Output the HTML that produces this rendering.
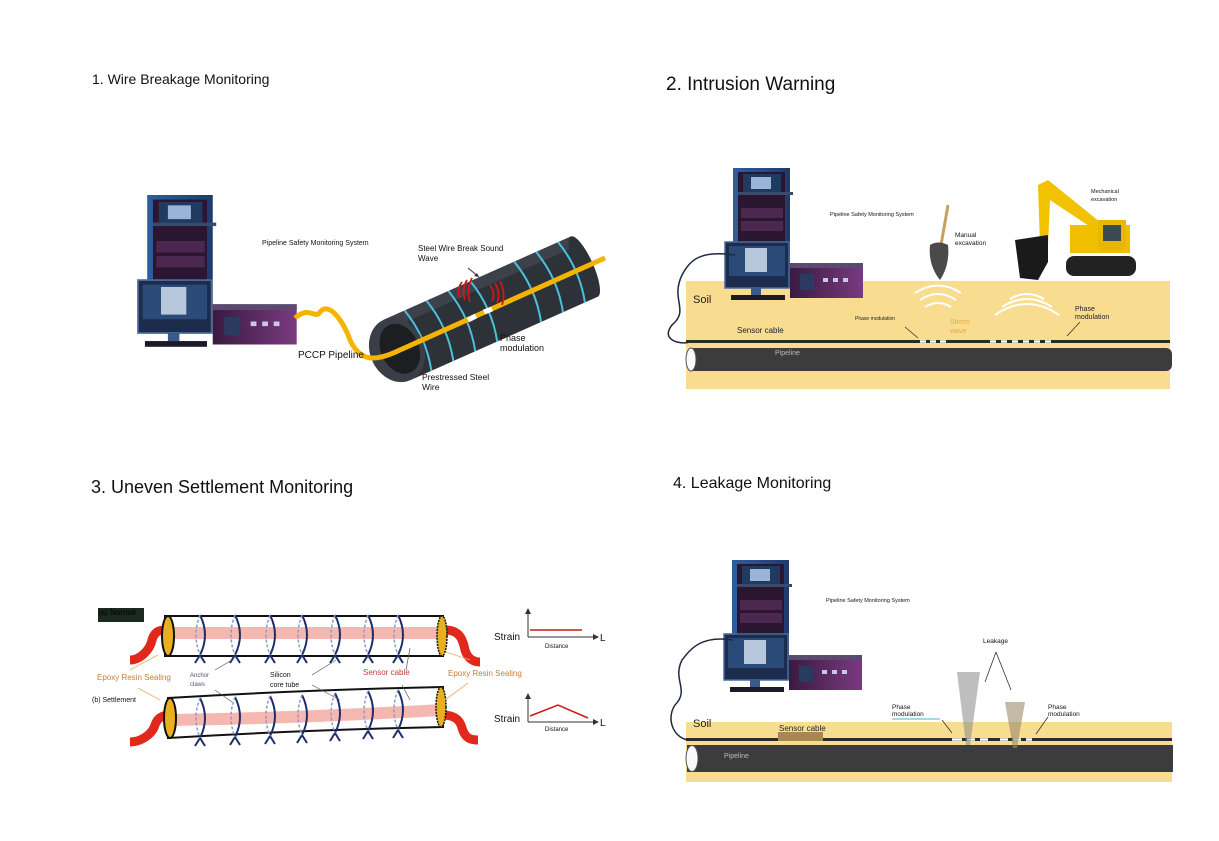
<!DOCTYPE html>
<html><head><meta charset="utf-8"><style>
html,body{margin:0;padding:0;background:#fff}
svg{display:block}
text{font-family:"Liberation Sans",sans-serif}
</style></head><body>
<svg width="1219" height="841" viewBox="0 0 1219 841" xmlns="http://www.w3.org/2000/svg">
<defs>
<linearGradient id="rk" x1="0" x2="1"><stop offset="0" stop-color="#2f5f9e"/><stop offset="1" stop-color="#1e3a6a"/></linearGradient>
<linearGradient id="pur" x1="0" x2="1"><stop offset="0" stop-color="#3a1a40"/><stop offset="1" stop-color="#7a3a80"/></linearGradient>
<g id="eq">
 <rect x="8" y="0" width="57" height="120" fill="url(#rk)"/>
 <rect x="13" y="4" width="47" height="110" fill="#2a1630"/>
 <rect x="18" y="6" width="38" height="18" fill="#203a60"/>
 <rect x="26" y="9" width="20" height="12" fill="#9ab4d8"/>
 <rect x="13" y="24" width="55" height="3" fill="#3a4a6a"/>
 <rect x="16" y="40" width="42" height="10" fill="#4a2850"/>
 <rect x="16" y="53" width="42" height="10" fill="#4a2850"/>
 <rect x="0" y="74" width="64" height="46" fill="#1c2c4c" stroke="#4a6a9a" stroke-width="1.5"/>
 <rect x="4" y="78" width="56" height="30" fill="#2a4a78"/>
 <rect x="20" y="80" width="22" height="24" fill="#b8c8dc"/>
 <rect x="26" y="120" width="10" height="7" fill="#3a5a8a"/>
 <rect x="6" y="127" width="54" height="5" fill="#1a1a2a"/>
 <rect x="65" y="95" width="73" height="35" fill="url(#pur)"/>
 <rect x="65" y="95" width="73" height="5" fill="#5a4a70"/>
 <rect x="75" y="106" width="14" height="16" fill="#2a3a60"/>
 <rect x="98" y="110" width="5" height="4" fill="#c8c8e8"/><rect x="108" y="110" width="5" height="4" fill="#c8c8e8"/><rect x="118" y="110" width="5" height="4" fill="#c8c8e8"/>
</g>
</defs>

<text x="92" y="84" font-size="14" fill="#111">1. Wire Breakage Monitoring</text>
<text x="666" y="90" font-size="19" fill="#111">2. Intrusion Warning</text>
<text x="91" y="493" font-size="18" fill="#111">3. Uneven Settlement Monitoring</text>
<text x="673" y="488" font-size="16" fill="#111">4. Leakage Monitoring</text>

<!-- Panel 1 -->
<g transform="translate(138,195) scale(1.15)"><use href="#eq"/></g>
<text x="262" y="245" font-size="7" fill="#111">Pipeline Safety Monitoring System</text>
<g transform="rotate(-24 397 350)">
 <rect x="397" y="317" width="205" height="66" fill="#2d3138"/>
 <rect x="397" y="317" width="205" height="11" fill="#3c414a"/>
 <ellipse cx="602" cy="350" rx="9" ry="33" fill="#2d3138"/>
 <g stroke="#4ac0dc" stroke-width="2" fill="none">
  <path d="M420 317 q9 33 0 66"/><path d="M444 317 q9 33 0 66"/><path d="M468 317 q9 33 0 66"/>
  <path d="M492 317 q9 33 0 66"/><path d="M540 317 q9 33 0 66"/><path d="M564 317 q9 33 0 66"/><path d="M588 317 q9 33 0 66"/>
 </g>
 <ellipse cx="397" cy="350" rx="27" ry="33" fill="#3a3e46"/>
 <ellipse cx="400" cy="350" rx="19" ry="26" fill="#1c1e22"/>
</g>
<path d="M295 318 C310 305 315 320 320 312 C330 300 345 325 350 340 C360 362 375 362 400 350 L605 258" stroke="#f5b400" stroke-width="5" fill="none"/>
<path d="M468 320 L476 316 M484 312 L492 309" stroke="#fff" stroke-width="5"/>
<g stroke="#d01818" stroke-width="1.8" fill="none">
 <path d="M462 282 q-6 8 -2 16"/><path d="M467 280 q-6 10 -2 20"/><path d="M472 278 q-6 12 -2 24"/>
 <path d="M490 285 q6 8 2 16"/><path d="M495 283 q6 10 2 20"/><path d="M500 281 q6 12 2 24"/>
</g>
<path d="M468 268 L479 277" stroke="#333" stroke-width="1"/><path d="M479 277 l-5 -1 l3 -3z" fill="#333"/>
<text x="418" y="251" font-size="8" fill="#111">Steel Wire Break Sound</text>
<text x="418" y="261" font-size="8" fill="#111">Wave</text>
<text x="500" y="341" font-size="9" fill="#111">Phase</text>
<text x="500" y="351" font-size="9" fill="#111">modulation</text>
<text x="298" y="358" font-size="10" fill="#111">PCCP Pipeline</text>
<text x="422" y="380" font-size="8.5" fill="#111">Prestressed Steel</text>
<text x="422" y="390" font-size="8.5" fill="#111">Wire</text>

<!-- Panel 2 -->
<rect x="686" y="281" width="484" height="108" fill="#f8dd90"/>
<g transform="translate(725,168)"><use href="#eq"/></g>
<path d="M735 255 C700 250 690 260 682 275 C670 300 690 310 672 325 C660 340 680 345 690 342 L1170 342" stroke="#1e2a3a" stroke-width="1.5" fill="none"/>
<rect x="686" y="340" width="484" height="3" fill="#2a2a2a"/>
<path d="M920 341.5 h6 m4 0 h6 m4 0 h6 M990 341.5 h6 m5 0 h6 m5 0 h6 m5 0 h6 m5 0 h6 m5 0 h6" stroke="#fff" stroke-width="2.5"/>
<rect x="687" y="348" width="485" height="23" rx="6" fill="#3c3c3c"/>
<ellipse cx="691" cy="359.5" rx="5" ry="11.5" fill="#fafafa" stroke="#555"/>
<text x="775" y="355" font-size="7" fill="#bbb">Pipeline</text>
<text x="693" y="303" font-size="11" fill="#222">Soil</text>
<text x="737" y="333" font-size="8" fill="#222">Sensor cable</text>
<text x="855" y="320" font-size="5" fill="#222">Phase modulation</text>
<text x="950" y="324" font-size="7" fill="#e8a840">Stress</text>
<text x="950" y="333" font-size="7" fill="#e8a840">wave</text>
<text x="1075" y="311" font-size="7" fill="#222">Phase</text>
<text x="1075" y="319" font-size="7" fill="#222">modulation</text>
<path d="M905 327 L918 338 M1080 322 L1067 336" stroke="#333" stroke-width="0.8"/>
<g stroke="#fff" stroke-width="2" fill="none">
 <path d="M920 300 q18 -12 36 0"/><path d="M925 307 q13 -8 26 0"/><path d="M915 293 q23 -15 46 0"/>
 <path d="M995 315 q32 -22 64 0"/><path d="M1002 307 q25 -16 50 0"/><path d="M1010 299 q17 -10 34 0"/>
</g>
<text x="830" y="216" font-size="5.5" fill="#111">Pipeline Safety Monitoring System</text>
<path d="M948 205 L941 245" stroke="#c8a060" stroke-width="3"/>
<path d="M930 245 q8 -5 18 0 q2 20 -8 35 q-12 -15 -10 -35z" fill="#4a4a48"/>
<text x="955" y="237" font-size="6.5" fill="#111">Manual</text>
<text x="955" y="245" font-size="6.5" fill="#111">excavation</text>
<text x="1091" y="193" font-size="5.5" fill="#111">Mechanical</text>
<text x="1091" y="201" font-size="5.5" fill="#111">excavation</text>
<path d="M1040 245 L1038 185 L1048 180 L1100 222 L1095 230 L1050 200 L1048 245z" fill="#f2c200"/>
<rect x="1070" y="225" width="60" height="28" fill="#f0c000"/>
<rect x="1098" y="220" width="28" height="30" fill="#e8b800"/>
<rect x="1103" y="225" width="18" height="16" fill="#3a4a50"/>
<rect x="1066" y="256" width="70" height="20" rx="8" fill="#222"/>
<path d="M1015 240 L1048 235 L1048 262 L1038 280 L1020 278z" fill="#1a1a1a"/>

<!-- Panel 3 -->
<g>
 <rect x="98" y="608" width="46" height="14" fill="#1a2a20"/>
 <text x="98" y="615" font-size="8" fill="#000">(a) Normal</text>
 <path d="M130 660 C140 660 150 650 152 640 C155 630 160 630 170 630" stroke="#e0281c" stroke-width="9" fill="none"/>
 <path d="M445 630 C460 630 463 640 465 650 C468 660 475 662 480 662" stroke="#e0281c" stroke-width="9" fill="none"/>
 <rect x="165" y="616" width="278" height="40" fill="#fff" stroke="#111" stroke-width="2"/>
 <rect x="168" y="627" width="272" height="12" fill="#f4b8b0"/>
 <ellipse cx="168" cy="636" rx="6" ry="20" fill="#e8b020" stroke="#111" stroke-width="2"/>
 <ellipse cx="442" cy="636" rx="5" ry="20" fill="#e8b020" stroke="#111" stroke-width="1.5" stroke-dasharray="2 1"/>
 <path d="M130 742 C140 742 152 735 155 725 C158 716 165 715 172 715" stroke="#e0281c" stroke-width="9" fill="none"/>
 <path d="M442 715 C455 715 460 720 462 728 C465 738 470 740 478 740" stroke="#e0281c" stroke-width="9" fill="none"/>
 <path d="M168 698 Q300 690 443 687 L443 727 Q300 730 168 738z" fill="#fff" stroke="#111" stroke-width="2"/>
 <path d="M170 714 Q300 712 442 704 L442 716 Q300 724 170 726z" fill="#f4b8b0"/>
 <ellipse cx="170" cy="718" rx="6" ry="20" fill="#e8b020" stroke="#111" stroke-width="2"/>
 <ellipse cx="441" cy="707" rx="5" ry="20" fill="#e8b020" stroke="#111" stroke-width="1.5" stroke-dasharray="2 1"/>
 <g stroke="#1e2e6a" stroke-width="2" fill="none">
  <path d="M200 615 q10 20 0 40 l-5 8 m5 -8 l5 8"/><path d="M235 615 q10 20 0 40 l-5 8 m5 -8 l5 8"/>
  <path d="M270 615 q10 20 0 40 l-5 8 m5 -8 l5 8"/><path d="M302 615 q10 20 0 40 l-5 8 m5 -8 l5 8"/>
  <path d="M335 615 q10 20 0 40 l-5 8 m5 -8 l5 8"/><path d="M368 615 q10 20 0 40 l-5 8 m5 -8 l5 8"/>
  <path d="M398 615 q10 20 0 40 l-5 8 m5 -8 l5 8"/>
  <path d="M200 698 q10 20 0 40 l-5 8 m5 -8 l5 8"/><path d="M235 697 q10 20 0 40 l-5 8 m5 -8 l5 8"/>
  <path d="M270 696 q10 20 0 40 l-5 8 m5 -8 l5 8"/><path d="M302 695 q10 20 0 40 l-5 8 m5 -8 l5 8"/>
  <path d="M335 693 q10 20 0 40 l-5 8 m5 -8 l5 8"/><path d="M368 691 q10 20 0 40 l-5 8 m5 -8 l5 8"/>
  <path d="M398 690 q10 20 0 40 l-5 8 m5 -8 l5 8"/>
 </g>
 <g stroke="#8a9ac8" stroke-width="1.5" fill="none" stroke-dasharray="3 2">
  <path d="M200 615 q-8 20 0 40"/><path d="M235 615 q-8 20 0 40"/><path d="M270 615 q-8 20 0 40"/><path d="M302 615 q-8 20 0 40"/><path d="M335 615 q-8 20 0 40"/><path d="M368 615 q-8 20 0 40"/><path d="M398 615 q-8 20 0 40"/>
  <path d="M200 698 q-8 20 0 40"/><path d="M235 697 q-8 20 0 40"/><path d="M270 696 q-8 20 0 40"/><path d="M302 695 q-8 20 0 40"/><path d="M335 693 q-8 20 0 40"/><path d="M368 691 q-8 20 0 40"/><path d="M398 690 q-8 20 0 40"/>
 </g>
 <text x="97" y="680" font-size="8" fill="#c08040">Epoxy Resin Sealing</text>
 <text x="448" y="676" font-size="8" fill="#c08040">Epoxy Resin Sealing</text>
 <text x="92" y="702" font-size="7" fill="#111">(b) Settlement</text>
 <text x="190" y="677" font-size="6" fill="#556">Anchor</text>
 <text x="190" y="686" font-size="6" fill="#556">claws</text>
 <text x="270" y="677" font-size="7" fill="#111">Silicon</text>
 <text x="270" y="687" font-size="7" fill="#111">core tube</text>
 <text x="363" y="675" font-size="8" fill="#c04040">Sensor cable</text>
 <g stroke="#e8b070" stroke-width="0.8"><path d="M130 670 L158 655 M138 688 L160 700 M470 660 L446 652 M468 683 L445 700"/></g>
 <g stroke="#556" stroke-width="0.7"><path d="M215 670 L232 660 M215 690 L232 702 M312 675 L336 660 M312 685 L340 700 M406 670 L410 648 M402 685 L410 700"/></g>
 <g stroke="#333" stroke-width="1" fill="none">
  <path d="M528 637 V612 M528 637 H595"/><path d="M528 722 V697 M528 722 H595"/>
 </g>
 <path d="M528 608 l-3 6 h6z M599 637 l-6 -3 v6z M528 693 l-3 6 h6z M599 722 l-6 -3 v6z" fill="#333"/>
 <path d="M530 630 H582" stroke="#d01818" stroke-width="1.5"/>
 <path d="M530 716 L558 705 L588 718" stroke="#d01818" stroke-width="1.5" fill="none"/>
 <text x="494" y="640" font-size="10" fill="#111">Strain</text>
 <text x="494" y="722" font-size="10" fill="#111">Strain</text>
 <text x="545" y="648" font-size="6" fill="#111">Distance</text>
 <text x="545" y="731" font-size="6" fill="#111">Distance</text>
 <text x="600" y="641" font-size="10" fill="#111">L</text>
 <text x="600" y="726" font-size="10" fill="#111">L</text>
</g>

<!-- Panel 4 -->
<rect x="686" y="722" width="486" height="60" fill="#f8dd90"/>
<g transform="translate(724,560)"><use href="#eq"/></g>
<path d="M733 640 C700 635 690 650 682 660 C672 680 690 690 675 705 C665 720 675 740 690 740 L1172 740" stroke="#1e2a3a" stroke-width="1.5" fill="none"/>
<rect x="686" y="738" width="486" height="3" fill="#2a2a2a"/>
<path d="M952 739.5 h10 m5 0 h8 m5 0 h8 M1000 739.5 h8 m5 0 h8 m5 0 h6" stroke="#fff" stroke-width="2.5"/>
<rect x="687" y="745" width="486" height="27" fill="#3c3c3c"/>
<ellipse cx="692" cy="758.5" rx="6" ry="13" fill="#fafafa" stroke="#555"/>
<text x="724" y="758" font-size="7" fill="#bbb">Pipeline</text>
<text x="693" y="727" font-size="11" fill="#222">Soil</text>
<rect x="778" y="732" width="45" height="9" fill="#a88850"/>
<text x="779" y="731" font-size="8" fill="#222">Sensor cable</text>
<text x="826" y="602" font-size="5.5" fill="#111">Pipeline Safety Monitoring System</text>
<text x="983" y="643" font-size="6.5" fill="#111">Leakage</text>
<path d="M996 652 L985 682 M996 652 L1011 690" stroke="#333" stroke-width="0.8"/>
<path d="M957 672 L980 672 L970 745 L966 745z" fill="#888" opacity="0.55"/>
<path d="M1005 702 L1025 702 L1017 748 L1013 748z" fill="#9a8a6a" opacity="0.6"/>
<text x="892" y="709" font-size="6.5" fill="#111">Phase</text>
<text x="892" y="716" font-size="6.5" fill="#111">modulation</text>
<rect x="892" y="718" width="48" height="2" fill="#a8d8e8"/>
<text x="1048" y="709" font-size="6.5" fill="#111">Phase</text>
<text x="1048" y="716" font-size="6.5" fill="#111">modulation</text>
<path d="M942 720 L952 733 M1048 717 L1036 734" stroke="#333" stroke-width="0.8"/>
</svg>
</body></html>
